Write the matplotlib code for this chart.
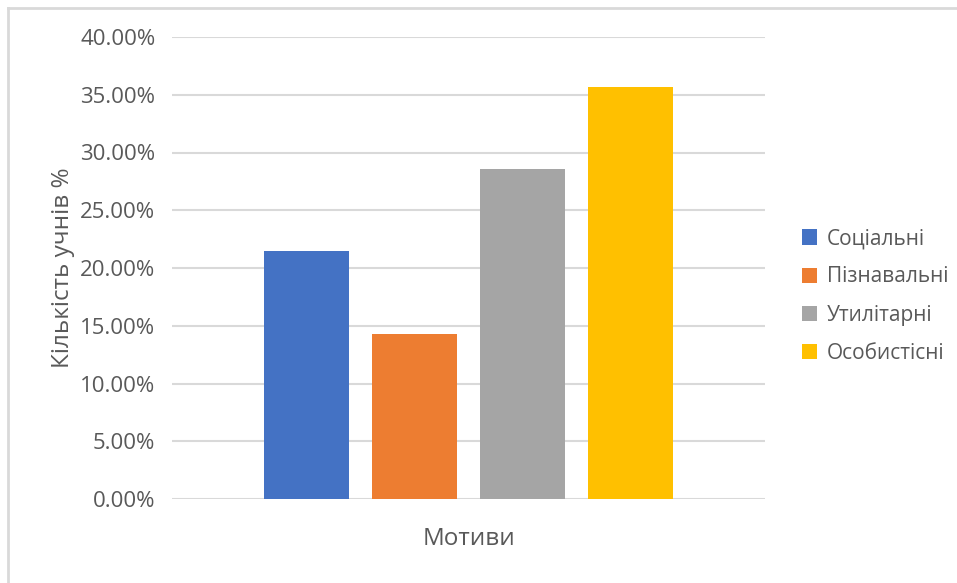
import matplotlib
matplotlib.use("Agg")
import matplotlib.pyplot as plt
from matplotlib.lines import Line2D
from matplotlib.patches import Patch
from matplotlib.ticker import PercentFormatter

plt.rcParams['font.family'] = ['Open Sans', 'DejaVu Sans']

categories = ["Соціальні", "Пізнавальні", "Утилітарні", "Особистісні"]
values = [21.43, 14.29, 28.57, 35.71]
colors = ["#4472C4", "#ED7D31", "#A5A5A5", "#FFC000"]
y_ticks = [0, 5, 10, 15, 20, 25, 30, 35, 40]
x_title = "Мотиви"
y_title = "Кількість учнів %"

text_color = "#595959"
grid_color = "#D9D9D9"

W, H = 957, 583
fig = plt.figure(figsize=(W / 100, H / 100), dpi=100)
ax = fig.add_axes([172 / W, 1 - 499 / H, (765 - 172) / W, (499 - 37) / H])

n = len(values)
offsets = [i - (n - 1) / 2 for i in range(n)]
for off, v, c, lab in zip(offsets, values, colors, categories):
    ax.bar(off, v, width=0.787, color=c, label=lab, zorder=3)

ax.set_xlim(-2.745, 2.745)
ax.set_ylim(0, 40)
ax.set_yticks(y_ticks)
ax.yaxis.set_major_formatter(PercentFormatter(decimals=2))
ax.set_xticks([])
ax.tick_params(axis='y', length=0, pad=12, labelsize=16, labelcolor=text_color)
ax.grid(axis='y', color=grid_color, linewidth=1.5, zorder=0)
for s in ax.spines.values():
    s.set_visible(False)

ax.set_xlabel(x_title, fontsize=17.5, color=text_color, labelpad=20)
ax.set_ylabel(y_title, fontsize=17.5, color=text_color, labelpad=4)

handles = [Patch(facecolor=c, edgecolor='none') for c in colors]
fig.legend(handles, categories, loc='center left',
           bbox_to_anchor=(783 / W, 1 - 296 / H), frameon=False,
           fontsize=15, labelcolor=text_color, handlelength=0.75,
           handleheight=0.75, handletextpad=0.45, labelspacing=0.82)

# chart-area border (top and left edges)
fig.add_artist(Line2D([8 / W, 1], [1 - 8 / H, 1 - 8 / H], color=grid_color,
                      linewidth=2, transform=fig.transFigure))
fig.add_artist(Line2D([8 / W, 8 / W], [0, 1 - 8 / H], color=grid_color,
                      linewidth=2, transform=fig.transFigure))

fig.savefig("out.png", dpi=100, facecolor="white")
